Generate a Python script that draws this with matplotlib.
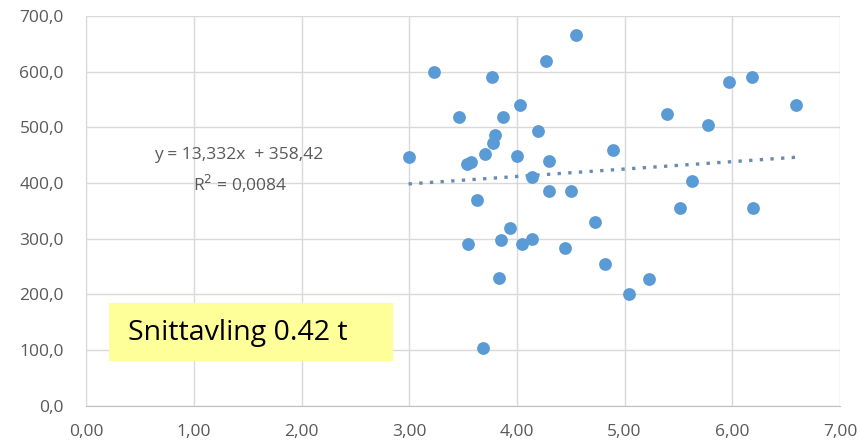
import numpy as np
import matplotlib
matplotlib.use("Agg")
import matplotlib.pyplot as plt
from matplotlib.patches import Rectangle
from matplotlib.ticker import FuncFormatter

# Data
x_vals = [4.545, 4.267, 3.227, 3.768, 4.030, 3.459, 3.867, 4.195, 3.793, 3.780,
          4.888, 2.994, 4.003, 3.700, 3.539, 3.576, 4.297, 4.139, 4.297, 4.498,
          3.628, 4.724, 3.935, 3.545, 3.851, 4.043, 4.142, 4.446, 4.820, 3.836,
          5.045, 3.684, 6.179, 5.971, 6.593, 5.390, 5.773, 5.625, 5.513, 6.188,
          5.223]
y_vals = [666, 620, 599, 591, 540, 518, 518, 494, 486, 472,
          460, 446, 449, 453, 434, 437, 440, 411, 386, 386,
          370, 330, 319, 290, 298, 290, 300, 284, 255, 230,
          201, 104, 591, 582, 540, 524, 505, 403, 355, 355,
          228]

# Trendline as given in the chart
slope = 13.332
intercept = 358.42
eq_text = "y = 13,332x  + 358,42"
r2_text = "R$^2$ = 0,0084"
box_text = "Snittavling 0.42 t"

x_ticks = [0, 1, 2, 3, 4, 5, 6, 7]
y_ticks = [0, 100, 200, 300, 400, 500, 600, 700]

plt.rcParams['font.family'] = ['Open Sans', 'DejaVu Sans']

fig = plt.figure(figsize=(8.61, 4.46), dpi=100)
ax = fig.add_axes([0.1001, 0.0904, 0.8755, 0.8737])

ax.set_xlim(0, 7)
ax.set_ylim(0, 700)
ax.set_xticks(x_ticks)
ax.set_yticks(y_ticks)
ax.xaxis.set_major_formatter(FuncFormatter(lambda v, p: f"{v:.2f}".replace(".", ",")))
ax.yaxis.set_major_formatter(FuncFormatter(lambda v, p: f"{v:.1f}".replace(".", ",")))
ax.tick_params(length=0, labelsize=12.5, labelcolor="#595959")
ax.tick_params(axis="y", pad=16)
ax.tick_params(axis="x", pad=13)

ax.grid(True, color="#d9d9d9", linewidth=1)
ax.set_axisbelow(True)
for side in ["top", "right"]:
    ax.spines[side].set_visible(False)
ax.spines["left"].set_color("#d9d9d9")
ax.spines["bottom"].set_color("#bfbfbf")

ax.scatter(x_vals, y_vals, s=85, color="#5b9bd5", zorder=3, linewidths=0)

tx = np.array([min(x_vals), max(x_vals)])
ax.plot(tx, slope * tx + intercept, linestyle=(0, (1, 2.2)), linewidth=2.4,
        color="#6a8bb0", zorder=2)

fig.text(239 / 861, 1 - 155 / 446, eq_text, ha="center", va="center",
         fontsize=12.5, color="#595959")
fig.text(240 / 861, 1 - 184 / 446, r2_text, ha="center", va="center",
         fontsize=12.5, color="#595959")

fig.patches.append(Rectangle((109 / 861, 1 - 361 / 446), 284 / 861, 58 / 446,
                             transform=fig.transFigure, facecolor="#ffff99",
                             edgecolor="none", zorder=5))
fig.text(128 / 861, 1 - 333 / 446, box_text, ha="left", va="center",
         fontsize=20.5, color="black", zorder=6)

fig.savefig("out.png", dpi=100)
